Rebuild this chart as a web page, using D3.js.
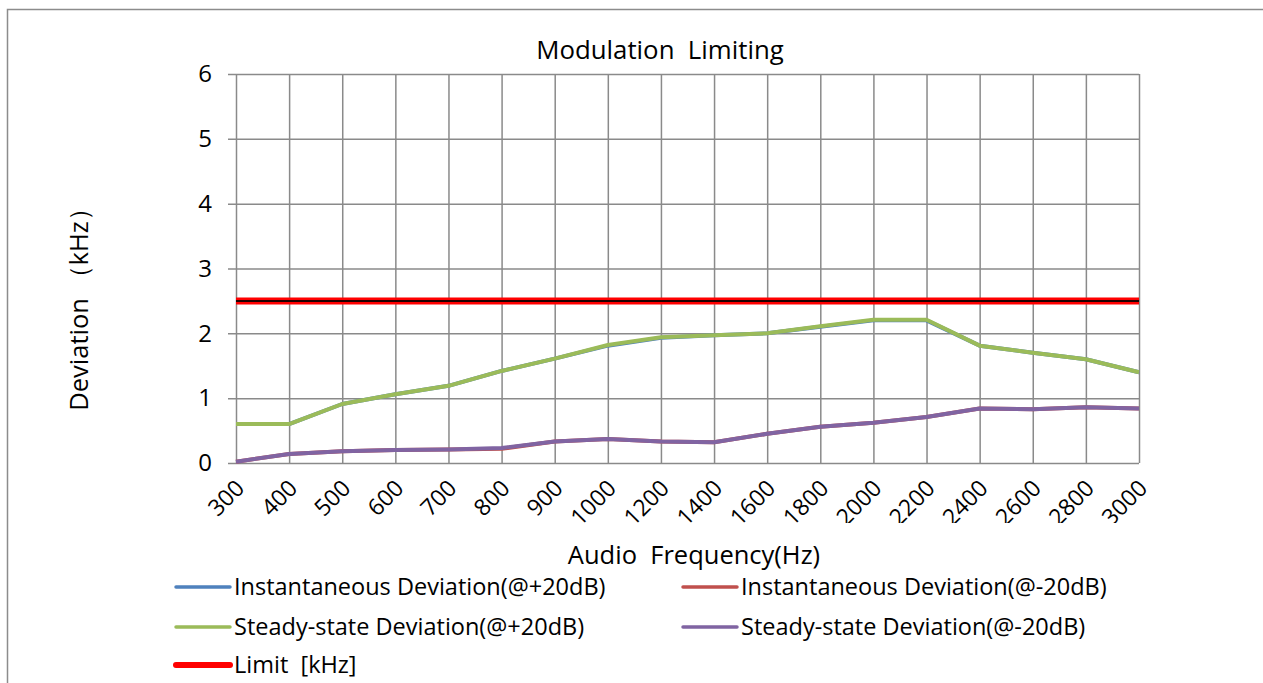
<!DOCTYPE html>
<html>
<head>
<meta charset="utf-8">
<script src="https://cdn.jsdelivr.net/npm/d3@7"></script>
<style>
  body { margin: 0; background: #fff; }
  svg { display: block; font-family: "Open Sans", "Noto Sans", sans-serif; }
</style>
</head>
<body>
<div id="chart"></div>
<script>
// Dados
const frequencias = ["300", "400", "500", "600", "700", "800", "900", "1000", "1200", "1400",
                     "1600", "1800", "2000", "2200", "2400", "2600", "2800", "3000"];
const instPlus20 = [0.60, 0.60, 0.91, 1.06, 1.19, 1.42, 1.61, 1.81, 1.93, 1.97, 2.00, 2.10, 2.20, 2.20, 1.81, 1.70, 1.60, 1.40];
const instMinus20 = [0.02, 0.14, 0.18, 0.20, 0.21, 0.22, 0.33, 0.37, 0.33, 0.32, 0.45, 0.56, 0.62, 0.71, 0.84, 0.83, 0.86, 0.84];
const steadyPlus20 = [0.60, 0.60, 0.91, 1.06, 1.19, 1.42, 1.61, 1.82, 1.94, 1.97, 2.00, 2.11, 2.21, 2.21, 1.81, 1.70, 1.60, 1.40];
const steadyMinus20 = [0.02, 0.14, 0.18, 0.20, 0.21, 0.23, 0.33, 0.37, 0.33, 0.32, 0.45, 0.56, 0.62, 0.71, 0.84, 0.83, 0.86, 0.84];
const limite = frequencias.map(() => 2.5);
const yTicks = [0, 1, 2, 3, 4, 5, 6];

const series = [
    { name: "Instantaneous Deviation(@+20dB)", values: instPlus20, color: "#4F81BD" },
    { name: "Instantaneous Deviation(@-20dB)", values: instMinus20, color: "#C0504D" },
    { name: "Steady-state Deviation(@+20dB)", values: steadyPlus20, color: "#9BBB59" },
    { name: "Steady-state Deviation(@-20dB)", values: steadyMinus20, color: "#8064A2" },
    { name: "Limit  [kHz]", values: limite, color: "#FF0000", limit: true }
];

const W = 1263, H = 683;
const plotLeft = 236, plotRight = 1139, plotTop = 74, plotBottom = 463;

const svg = d3.select("#chart").append("svg")
    .attr("width", W)
    .attr("height", H);

// Recorte dos rótulos do eixo X (como no original, cortados embaixo)
svg.append("defs").append("clipPath")
    .attr("id", "clip-xlabels")
    .append("rect")
    .attr("x", 0).attr("y", plotBottom)
    .attr("width", W).attr("height", 60);

// Moldura
svg.append("rect")
    .attr("x", 7.5).attr("y", 9.5)
    .attr("width", W).attr("height", H)
    .attr("fill", "none")
    .attr("stroke", "#8c8c8c")
    .attr("stroke-width", 1.5);

const xScale = d3.scalePoint().domain(frequencias).range([plotLeft, plotRight]);
const yScale = d3.scaleLinear().domain([0, 6]).range([plotBottom, plotTop]);

const gridColor = "#8a8a8a";

// Linhas de grade verticais
svg.append("g")
    .attr("transform", `translate(0,${plotBottom})`)
    .call(d3.axisBottom(xScale).tickSize(-(plotBottom - plotTop)).tickFormat(""))
    .call(g => g.select(".domain").remove())
    .call(g => g.selectAll("line").attr("stroke", gridColor).attr("stroke-width", 1.5));

// Linhas de grade horizontais + rótulos do eixo Y
svg.append("g")
    .attr("transform", `translate(${plotRight},0)`)
    .call(d3.axisLeft(yScale).tickValues(yTicks).tickSize(plotRight - plotLeft + 8).tickPadding(16).tickFormat(d3.format("d")))
    .call(g => g.select(".domain").remove())
    .call(g => g.selectAll("line").attr("stroke", gridColor).attr("stroke-width", 1.5))
    .call(g => g.selectAll("text")
        .attr("font-size", "24px")
        .attr("fill", "#000")
        .attr("font-family", "Open Sans, sans-serif"));

// Rótulos do eixo X (rotacionados)
svg.append("g")
    .attr("clip-path", "url(#clip-xlabels)")
    .selectAll("text")
    .data(frequencias)
    .enter().append("text")
    .attr("transform", d => `translate(${xScale(d) + 4},${plotBottom + 21}) rotate(-45)`)
    .attr("text-anchor", "end")
    .attr("dy", "0.35em")
    .attr("font-size", "23px")
    .text(d => d);

// Linhas das séries
const line = d3.line()
    .x((d, i) => xScale(frequencias[i]))
    .y(d => yScale(d));

series.forEach(s => {
    if (s.limit) {
        svg.append("path")
            .attr("d", line(s.values))
            .attr("fill", "none")
            .attr("stroke", s.color)
            .attr("stroke-width", 7);
        svg.append("path")
            .attr("d", line(s.values))
            .attr("fill", "none")
            .attr("stroke", "#200000")
            .attr("stroke-width", 2);
    } else {
        svg.append("path")
            .attr("d", line(s.values))
            .attr("fill", "none")
            .attr("stroke", s.color)
            .attr("stroke-width", 4)
            .attr("stroke-linejoin", "round");
    }
});

// Título
svg.append("text")
    .attr("x", 660)
    .attr("y", 59)
    .attr("text-anchor", "middle")
    .attr("font-size", "25.8px")
    .attr("xml:space", "preserve")
    .text("Modulation  Limiting");

// Títulos dos eixos
svg.append("text")
    .attr("x", 694)
    .attr("y", 564)
    .attr("text-anchor", "middle")
    .attr("font-size", "25.5px")
    .attr("xml:space", "preserve")
    .text("Audio  Frequency(Hz)");

svg.append("text")
    .attr("transform", `translate(88,303) rotate(-90)`)
    .attr("text-anchor", "middle")
    .attr("font-size", "25.5px")
    .text("Deviation （kHz）");

// Legenda
const legendPos = [
    { x: 176, y: 587 }, { x: 683, y: 587 },
    { x: 176, y: 627 }, { x: 683, y: 627 },
    { x: 176, y: 665 }
];
series.forEach((s, i) => {
    const p = legendPos[i];
    svg.append("line")
        .attr("x1", p.x).attr("x2", p.x + 54)
        .attr("y1", p.y).attr("y2", p.y)
        .attr("stroke", s.color)
        .attr("stroke-width", s.limit ? 6 : 3.5)
        .attr("stroke-linecap", "round");
    svg.append("text")
        .attr("x", p.x + 58)
        .attr("y", p.y)
        .attr("dy", "0.35em")
        .attr("font-size", "23.5px")
        .attr("xml:space", "preserve")
        .text(s.name);
});
</script>
</body>
</html>
